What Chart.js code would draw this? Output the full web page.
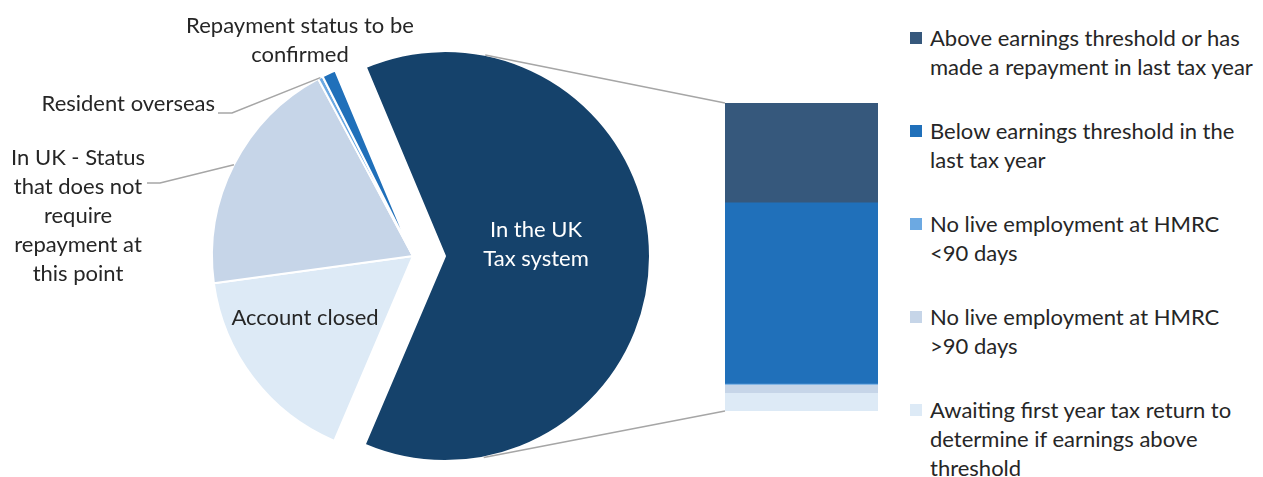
<!DOCTYPE html>
<html>
<head>
<meta charset="utf-8">
<title>Student loan borrowers</title>
<script src="https://cdn.jsdelivr.net/npm/chart.js@4.4.0/dist/chart.umd.min.js"></script>
<style>
  body { margin: 0; background: #fff; }
  #wrap { position: relative; width: 1263px; height: 477px; overflow: hidden; font-family: Lato, "Liberation Sans", sans-serif; }
  #pieBox { position: absolute; left: 0; top: 0; width: 726px; height: 477px; }
  #barBox { position: absolute; left: 725px; top: 103px; width: 153px; height: 308px; }
  #legend { position: absolute; left: 910px; top: 23px; width: 350px; }
  .item { display: flex; height: 93px; }
  .sw { width: 12px; height: 12px; margin: 9px 8px 0 0; flex: none; }
  .txt { font-size: 22px; line-height: 29px; color: #262626; white-space: nowrap; }
</style>
</head>
<body>
<div id="wrap">
  <div id="pieBox"><canvas id="pie"></canvas></div>
  <div id="barBox"><canvas id="bar"></canvas></div>
  <div id="legend"></div>
</div>
<script>
// pie slices (share of all borrowers, %)
const pieLabels = [
  ['In the UK', 'Tax system'],
  ['Account closed'],
  ['In UK - Status', 'that does not', 'require', 'repayment at', 'this point'],
  ['Resident overseas'],
  ['Repayment status to be', 'confirmed']
];
const pieValues = [62.6, 16.4, 19.3, 0.4, 1.1];
const pieColors = ['#15426b', '#ddeaf6', '#c6d5e8', '#6ca9e2', '#2070ba'];

// bar: split of the "in the UK tax system" slice (%), top to bottom
const barLabels = [
  ['Above earnings threshold or has', 'made a repayment in last tax year'],
  ['Below earnings threshold in the', 'last tax year'],
  ['No live employment at HMRC', '<90 days'],
  ['No live employment at HMRC', '>90 days'],
  ['Awaiting first year tax return to', 'determine if earnings above', 'threshold']
];
const barValues = [32.4, 58.9, 0.3, 2.7, 5.7];
const barColors = ['#36587c', '#2070ba', '#6ca9e2', '#c6d5e8', '#ddeaf6'];

const FONT = '22px Lato, "Liberation Sans", sans-serif';
const TEXT = '#262626';
const pull = 32;       // how far the big slice is pulled out
const grow = 1.02;     // pulled slice is drawn a touch larger
const lineH = 29;

// where each pie label goes, relative to the pie centre
const labelSpots = [
  { dx: 91, dy: -12, color: '#fff', exploded: true },
  { dx: -108, dy: 62 },
  { dx: -335, dy: -98, align: 'center', elbow: [-253, -73], end: [-266, -73] },
  { dx: -198, dy: -152, align: 'right', elbow: [-181, -143], end: [-195, -143] },
  { dx: -113, dy: -230 }
];

// legend
let box = '';
for (let i = 0; i < barLabels.length; i++) {
  box += `<div class="item"><div class="sw" style="background:${barColors[i]}"></div>
          <div class="txt">${barLabels[i].map(s => s.replace('<', '&lt;').replace('>', '&gt;')).join('<br>')}</div></div>`;
}
document.getElementById('legend').innerHTML = box;

// stacked bar, first dataset sits at the bottom so feed it reversed
const barSets = barValues.map((v, i) => ({
  label: barLabels[i].join(' '),
  data: [v],
  backgroundColor: barColors[i],
  borderWidth: 0,
  barPercentage: 1,
  categoryPercentage: 1
})).reverse();

const barChart = new Chart(document.getElementById('bar'), {
  type: 'bar',
  data: { labels: [''], datasets: barSets },
  options: {
    responsive: true,
    maintainAspectRatio: false,
    animation: false,
    layout: { padding: 0 },
    plugins: { legend: { display: false }, tooltip: { enabled: false } },
    scales: {
      x: { stacked: true, display: false },
      y: { stacked: true, display: false, min: 0, max: 100 }
    }
  }
});

function pulledCentre(arc) {
  const mid = (arc.startAngle + arc.endAngle) / 2;
  return [arc.x + Math.cos(mid) * pull, arc.y + Math.sin(mid) * pull];
}

// draw the slices ourselves so the first one can be pulled out sideways
const explode = {
  id: 'explode',
  beforeDatasetDraw(chart, args) {
    const ctx = chart.ctx;
    args.meta.data.forEach((arc, i) => {
      ctx.save();
      if (i === 0) {
        const [cx, cy] = pulledCentre(arc);
        ctx.translate(cx, cy);
        ctx.scale(grow, grow);
        ctx.translate(-arc.x, -arc.y);
      }
      arc.draw(ctx);
      ctx.restore();
    });
    return false;
  }
};

// grey lines from the pulled slice to the bar corners
const seriesLines = {
  id: 'seriesLines',
  afterDatasetsDraw(chart) {
    const ctx = chart.ctx;
    const arc = chart.getDatasetMeta(0).data[0];
    const [cx, cy] = pulledCentre(arc);
    const R = arc.outerRadius * grow;

    const pr = chart.canvas.getBoundingClientRect();
    const br = barChart.canvas.getBoundingClientRect();
    const n = barChart.data.datasets.length;
    const topBar = barChart.getDatasetMeta(n - 1).data[0];
    const botBar = barChart.getDatasetMeta(0).data[0];
    const left = br.left - pr.left + topBar.x - topBar.width / 2;
    const corners = [
      [left, br.top - pr.top + topBar.y, -1],
      [left, br.top - pr.top + botBar.base, 1]
    ];
    ctx.save();
    ctx.strokeStyle = '#a6a6a6';
    ctx.lineWidth = 1.5;
    corners.forEach(([px, py, side]) => {
      const d = Math.hypot(px - cx, py - cy);
      const phi = Math.atan2(py - cy, px - cx);
      const t = phi + side * Math.acos(R / d);
      ctx.beginPath();
      ctx.moveTo(cx + Math.cos(t) * R, cy + Math.sin(t) * R);
      ctx.lineTo(px, py);
      ctx.stroke();
    });
    ctx.restore();
  }
};

// slice names and leader lines
const pieText = {
  id: 'pieText',
  afterDraw(chart) {
    const ctx = chart.ctx;
    const arcs = chart.getDatasetMeta(0).data;
    ctx.save();
    ctx.font = FONT;
    ctx.textBaseline = 'middle';
    arcs.forEach((arc, i) => {
      const s = labelSpots[i];
      let [cx, cy] = s.exploded ? pulledCentre(arc) : [arc.x, arc.y];
      if (s.elbow) {
        const m = (arc.startAngle + arc.endAngle) / 2;
        ctx.strokeStyle = '#a6a6a6';
        ctx.lineWidth = 1.5;
        ctx.beginPath();
        ctx.moveTo(cx + Math.cos(m) * arc.outerRadius, cy + Math.sin(m) * arc.outerRadius);
        ctx.lineTo(cx + s.elbow[0], cy + s.elbow[1]);
        ctx.lineTo(cx + s.end[0], cy + s.end[1]);
        ctx.stroke();
      }
      ctx.fillStyle = s.color || TEXT;
      ctx.textAlign = s.align || 'center';
      const lines = pieLabels[i];
      const y0 = s.exploded ? cy + s.dy - (lines.length - 1) * lineH / 2 : cy + s.dy;
      lines.forEach((ln, k) => ctx.fillText(ln, cx + s.dx, y0 + k * lineH));
    });
    ctx.restore();
  }
};

const pieChart = new Chart(document.getElementById('pie'), {
  type: 'pie',
  data: {
    labels: pieLabels.map(l => l.join(' ')),
    datasets: [{
      data: pieValues,
      backgroundColor: pieColors,
      borderColor: '#fff',
      borderWidth: 2
    }]
  },
  options: {
    responsive: true,
    maintainAspectRatio: false,
    animation: false,
    rotation: -22.75,
    radius: 201,
    layout: { padding: { left: 100, top: 35 } },
    plugins: { legend: { display: false }, tooltip: { enabled: false } }
  },
  plugins: [explode, seriesLines, pieText]
});
</script>
</body>
</html>
